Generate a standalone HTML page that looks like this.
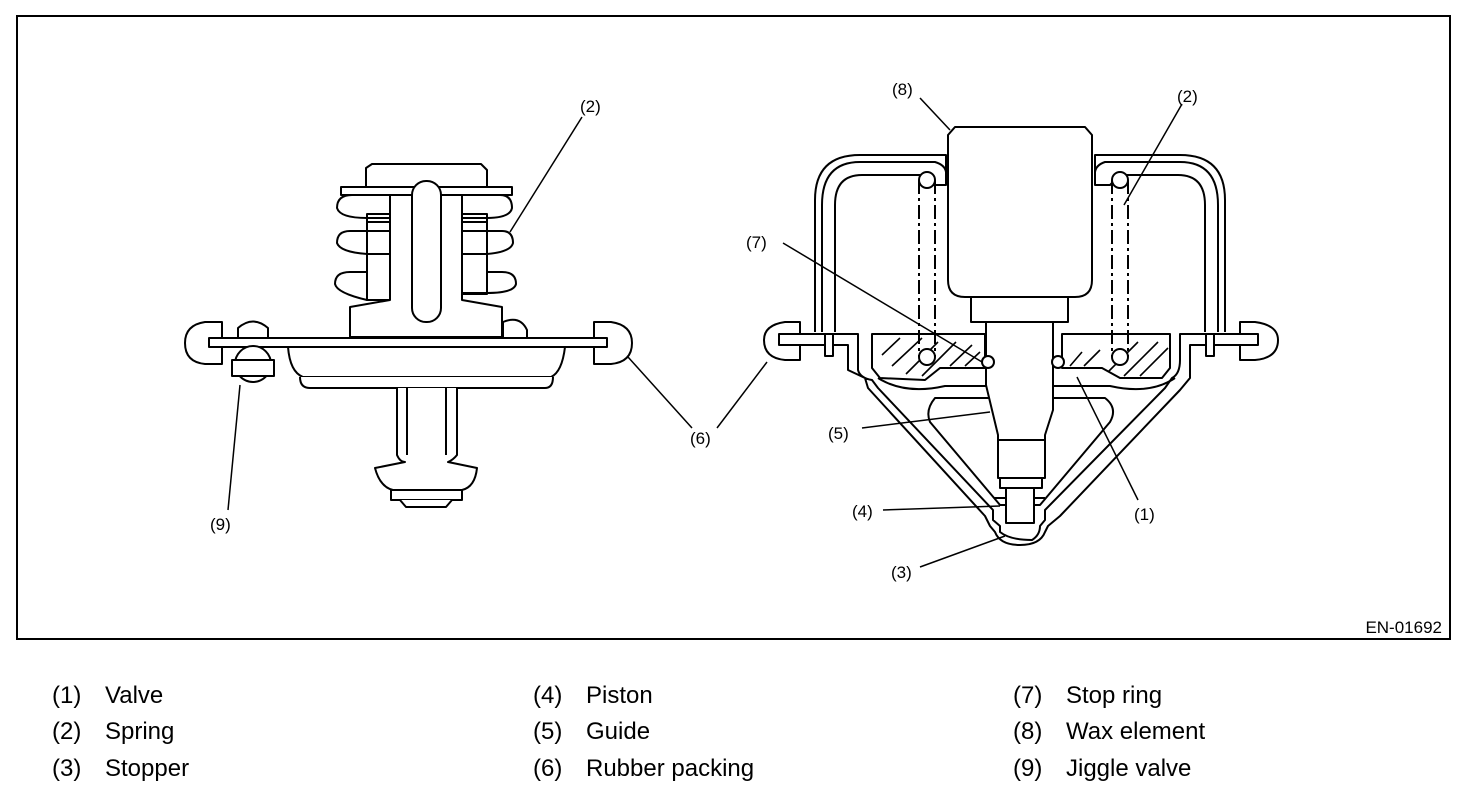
<!DOCTYPE html>
<html><head><meta charset="utf-8"><style>
html,body{margin:0;padding:0;background:#fff;}
svg{display:block;}
text{font-family:"Liberation Sans",sans-serif;fill:#000;}
</style></head><body>
<svg width="1472" height="796" viewBox="0 0 1472 796" xmlns="http://www.w3.org/2000/svg">
<rect x="17" y="16" width="1433" height="623" fill="#fff" stroke="#000" stroke-width="2"/>
<text x="1442" y="633" font-size="17" text-anchor="end">EN-01692</text>

<g fill="#fff" stroke="#000" stroke-width="2" stroke-linejoin="round">
<path d="M366 187 L366 168 L372 164 L481 164 L487 170 L487 187 Z"/>
<rect x="341" y="187" width="171" height="8"/>
<path d="M390 195 L352 195 Q337 195 337 208 Q340 218 367 218 L390 218"/>
<path d="M367 222 L390 222 L390 231 L350 231 Q337 231 337 243 Q340 252 367 254 L390 254"/>
<path d="M367 254 L367 272 L350 272 Q335 272 335 284 Q337 293 367 300 L390 300"/>
<rect x="367" y="214" width="23" height="86" fill="none"/>
<path d="M462 195 L500 195 Q512 195 512 208 Q510 218 487 218 L462 218"/>
<path d="M487 222 L462 222 L462 231 L502 231 Q513 231 513 243 Q511 252 487 254 L462 254"/>
<path d="M487 254 L487 272 L502 272 Q516 272 516 284 Q514 293 487 293 L462 293"/>
<rect x="462" y="214" width="25" height="80" fill="none"/>
<path d="M390 195 L390 300 L350 307 L350 337 L502 337 L502 307 L462 300 L462 195 Z"/>
<rect x="412" y="181" width="29" height="141" rx="14"/>
<path d="M238 338 L238 328 Q253 315 268 328 L268 338"/>
<path d="M503 338 L503 322 Q520 315 527 330 L527 338"/>
<path d="M222 322 L205 322 Q185 325 185 343 Q185 362 205 364 L222 364 Z"/>
<path d="M594 322 L611 322 Q632 325 632 343 Q632 362 611 364 L594 364 Z"/>
<rect x="209" y="338" width="398" height="9"/>
<circle cx="253" cy="364" r="18"/>
<rect x="232" y="360" width="42" height="16"/>
<path d="M288 347 Q290 372 303 377 L551 377 Q562 372 565 347 Z"/>
<path d="M300 377 Q300 388 310 388 L545 388 Q553 388 553 377"/>
<path d="M397 388 L397 455 Q400 462 405 462 L375 468 Q380 487 393 490 L462 490 Q475 487 477 468 L448 462 Q453 460 457 455 L457 388"/>
<path d="M407 388 L407 455 M446 388 L446 455" fill="none"/>
<rect x="391" y="490" width="71" height="10"/>
<path d="M400 500 L406 507 L446 507 L452 500"/>

<path d="M815 332 L815 200 Q815 155 860 155 L946 155 L946 185 L930 185 L920 175 L862 175 Q835 175 835 205 L835 332" />
<path d="M1225 332 L1225 200 Q1225 155 1180 155 L1095 155 L1095 185 L1110 185 L1120 175 L1178 175 Q1205 175 1205 205 L1205 332" />
<path d="M822 332 L822 205 Q822 162 860 162 L935 162 Q945 165 946 172" fill="none"/>
<path d="M1218 332 L1218 205 Q1218 162 1180 162 L1105 162 Q1096 165 1095 172" fill="none"/>
<path d="M800 322 L785 322 Q764 325 764 340 Q764 358 785 360 L800 360 Z"/>
<path d="M1240 322 L1255 322 Q1278 325 1278 340 Q1278 358 1255 360 L1240 360 Z"/>
<path d="M779 334 L858 334 L858 370 Q860 378 872 380 L878 388 L993 510 L993 520 L1000 526 L1000 532 Q1010 540 1032 540 Q1040 535 1040 526 L1045 520 L1045 510 L1165 388 L1172 378 Q1180 374 1180 360 L1180 334 L1258 334 L1258 345 L1190 345 L1190 378 L1180 390 L1060 516 L1048 526 L1045 532 Q1040 545 1020 545 Q1000 545 995 532 L990 526 L985 516 L868 388 L865 378 L848 370 L848 345 L779 345 Z"/>
<rect x="825" y="334" width="8" height="22"/>
<rect x="1206" y="334" width="8" height="22"/>
<path d="M872 334 L985 334 L985 368 L940 368 L925 380 L880 378 L872 368 Z"/>
<path d="M1062 334 L1170 334 L1170 368 L1162 378 L1120 378 L1102 368 L1062 368 Z"/>
<g stroke-width="1.6" fill="none">
<path d="M882 355 L900 338 M892 366 L922 338 M906 374 L938 342 M922 376 L956 342 M950 366 L972 345 M965 366 L980 352"/>
<path d="M1070 366 L1082 352 M1084 366 L1100 350 M1108 372 L1138 342 M1124 376 L1158 342 M1140 376 L1168 348"/>
</g>
<path d="M878 378 Q905 395 945 386 L1110 386 Q1150 395 1175 378" fill="none"/>
<path d="M935 398 Q925 410 930 422 L1000 505 L1040 505 L1110 422 Q1118 408 1105 398 Z"/>
<circle cx="927" cy="180" r="8"/><circle cx="1120" cy="180" r="8"/>
<circle cx="927" cy="357" r="8"/><circle cx="1120" cy="357" r="8"/>
<path d="M919 180 L919 357 M935 180 L935 357 M1112 180 L1112 357 M1128 180 L1128 357" stroke-dasharray="14 4 3 4"/>
<path d="M986 322 L986 385 L992 410 L998 435 L998 478 L1045 478 L1045 435 L1053 410 L1053 385 L1053 322 Z"/>
<path d="M998 440 L1045 440 M1000 478 L1000 488 L1042 488 L1042 478" fill="none"/>
<rect x="1006" y="488" width="28" height="35"/>
<path d="M994 498 L1006 498 M1034 498 L1045 498" fill="none"/>
<rect x="971" y="297" width="97" height="25"/>
<path d="M948 135 L955 127 L1085 127 L1092 135 L1092 280 Q1092 297 1075 297 L965 297 Q948 297 948 280 Z"/>
<circle cx="988" cy="362" r="6"/><circle cx="1058" cy="362" r="6"/>
</g>

<g stroke="#000" stroke-width="1.5" fill="none">
<path d="M582 117 L510 232"/>
<path d="M240 385 L228 510"/>
<path d="M628 357 L692 428"/>
<path d="M717 428 L767 362"/>
<path d="M920 98 L950 130"/>
<path d="M1182 104 L1124 205"/>
<path d="M783 243 L982 362"/>
<path d="M862 428 L990 412"/>
<path d="M883 510 L1000 506"/>
<path d="M1138 500 L1077 377"/>
<path d="M920 567 L1005 536"/>
</g>
<g font-size="17">
<text x="580" y="112">(2)</text>
<text x="210" y="530">(9)</text>
<text x="690" y="444">(6)</text>
<text x="892" y="95">(8)</text>
<text x="1177" y="102">(2)</text>
<text x="746" y="248">(7)</text>
<text x="828" y="439">(5)</text>
<text x="852" y="517">(4)</text>
<text x="1134" y="520">(1)</text>
<text x="891" y="578">(3)</text>
</g>

<g font-size="24">
<text x="52" y="703">(1)</text><text x="105" y="703">Valve</text>
<text x="52" y="739">(2)</text><text x="105" y="739">Spring</text>
<text x="52" y="776">(3)</text><text x="105" y="776">Stopper</text>
<text x="533" y="703">(4)</text><text x="586" y="703">Piston</text>
<text x="533" y="739">(5)</text><text x="586" y="739">Guide</text>
<text x="533" y="776">(6)</text><text x="586" y="776">Rubber packing</text>
<text x="1013" y="703">(7)</text><text x="1066" y="703">Stop ring</text>
<text x="1013" y="739">(8)</text><text x="1066" y="739">Wax element</text>
<text x="1013" y="776">(9)</text><text x="1066" y="776">Jiggle valve</text>
</g>
</svg>
</body></html>
